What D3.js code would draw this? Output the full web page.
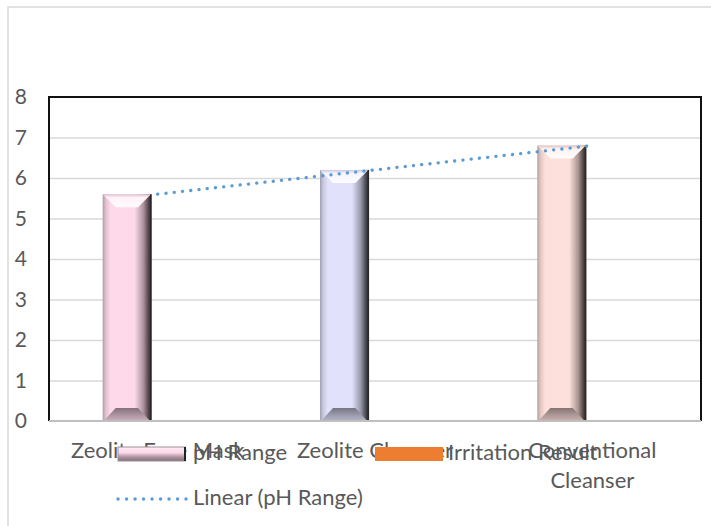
<!DOCTYPE html>
<html>
<head>
<meta charset="utf-8">
<script src="https://cdn.jsdelivr.net/npm/d3@7"></script>
<style>
  html, body { margin: 0; padding: 0; background: #fff; }
  svg { display: block; }
  text { font-family: Lato, "Open Sans", sans-serif; fill: #595959; }
</style>
</head>
<body>
<svg id="chart" width="711" height="526"></svg>
<script>
// Product categories and measured values
const categories = ["Zeolite Face Mask", "Zeolite Cleanser", "Conventional Cleanser"];
const seriesNames = ["pH Range", "Irritation Result"];
const phRange = [5.6, 6.2, 6.8];
const irritationResult = [0, 0, 0];
const yTicks = [0, 1, 2, 3, 4, 5, 6, 7, 8];
const trendName = "Linear (pH Range)";

// Face colours of the bevelled bars, one per category
const barColors = ["#fdd9ea", "#e1e1fb", "#fddfdb"];
const irritationColor = "#ed7d31";
const trendColor = "#5b9bd5";

const svg = d3.select("#chart");
const defs = svg.append("defs");

const plot = { left: 49, right: 701, top: 97, bottom: 421 };
const fontSize = 22;

// outer chart frame
svg.append("rect")
  .attr("x", 8).attr("y", 7).attr("width", 720).attr("height", 540)
  .attr("fill", "none").attr("stroke", "#d9d9d9").attr("stroke-width", 1.5);

const y = d3.scaleLinear().domain([0, 8]).range([plot.bottom, plot.top]);
const x0 = d3.scaleBand().domain(categories).range([plot.left, plot.right]).padding(0);
const bw = x0.bandwidth();
const x1 = d3.scaleBand().domain(seriesNames)
  .range([bw * 0.247, bw * 0.753]).paddingInner(0.216).paddingOuter(0);

// gridlines
svg.append("g")
  .attr("transform", `translate(${plot.left},0)`)
  .call(d3.axisLeft(y).tickValues(yTicks.slice(1, -1)).tickSize(-(plot.right - plot.left)).tickFormat(""))
  .call(g => g.select(".domain").remove())
  .call(g => g.selectAll("line").attr("stroke", "#d9d9d9").attr("stroke-width", 1.5));

// y tick labels
svg.append("g")
  .attr("transform", `translate(27,0)`)
  .call(d3.axisLeft(y).tickValues(yTicks).tickSize(0).tickPadding(0))
  .call(g => g.select(".domain").remove())
  .call(g => g.selectAll("text")
    .attr("font-size", 21).attr("fill", "#595959")
    .style("font-family", "Lato, 'Open Sans', sans-serif"));

// plot area frame
svg.append("path")
  .attr("d", `M${plot.left},${plot.bottom}V${plot.top}H${plot.right}V${plot.bottom}`)
  .attr("fill", "none").attr("stroke", "#111").attr("stroke-width", 2);

// gradients for bevelled bars
function shade(c, k) { return d3.interpolateRgb(c, "#000")(k); }
function tint(c, k) { return d3.interpolateRgb(c, "#fff")(k); }

barColors.forEach((c, i) => {
  const g = defs.append("linearGradient").attr("id", "side" + i)
    .attr("x1", 0).attr("x2", 1).attr("y1", 0).attr("y2", 0);
  g.append("stop").attr("offset", 0).attr("stop-color", shade(c, 0.3));
  g.append("stop").attr("offset", 0.06).attr("stop-color", shade(c, 0.12));
  g.append("stop").attr("offset", 0.16).attr("stop-color", c);
  g.append("stop").attr("offset", 0.66).attr("stop-color", c);
  g.append("stop").attr("offset", 0.84).attr("stop-color", shade(c, 0.32));
  g.append("stop").attr("offset", 0.95).attr("stop-color", shade(c, 0.68));
  g.append("stop").attr("offset", 1).attr("stop-color", shade(c, 0.82));

  const t = defs.append("linearGradient").attr("id", "top" + i)
    .attr("x1", 0).attr("x2", 0).attr("y1", 0).attr("y2", 1);
  t.append("stop").attr("offset", 0).attr("stop-color", shade(c, 0.12));
  t.append("stop").attr("offset", 0.25).attr("stop-color", tint(c, 0.6));
  t.append("stop").attr("offset", 1).attr("stop-color", tint(c, 0.92));

  const b = defs.append("linearGradient").attr("id", "bot" + i)
    .attr("x1", 0).attr("x2", 0).attr("y1", 0).attr("y2", 1);
  b.append("stop").attr("offset", 0).attr("stop-color", shade(c, 0.48));
  b.append("stop").attr("offset", 0.6).attr("stop-color", shade(c, 0.3));
  b.append("stop").attr("offset", 1).attr("stop-color", shade(c, 0.2));
});

function bevelBar(g, x, yTop, w, h, i) {
  const bv = Math.min(13, w / 3.5, h / 3);
  g.append("rect").attr("x", x).attr("y", yTop).attr("width", w).attr("height", h)
    .attr("fill", `url(#side${i})`);
  g.append("path")
    .attr("d", `M${x},${yTop}H${x + w}L${x + w - bv},${yTop + bv}H${x + bv}Z`)
    .attr("fill", `url(#top${i})`);
  g.append("path")
    .attr("d", `M${x + 1},${yTop + h}H${x + w - 1}L${x + w - bv},${yTop + h - bv}H${x + bv}Z`)
    .attr("fill", `url(#bot${i})`);
  g.append("path")
    .attr("d", `M${x + w},${yTop}V${yTop + h}`)
    .attr("stroke", shade(barColors[i], 0.82)).attr("stroke-width", 1.5);
}

const bars = svg.append("g");
phRange.forEach((v, i) => {
  const bx = x0(categories[i]) + x1("pH Range");
  bevelBar(bars, bx, y(v), x1.bandwidth(), y(0) - y(v), i);
});
irritationResult.forEach((v, i) => {
  bars.append("rect")
    .attr("x", x0(categories[i]) + x1("Irritation Result"))
    .attr("y", y(v)).attr("width", x1.bandwidth()).attr("height", y(0) - y(v))
    .attr("fill", irritationColor);
});

// category axis line
svg.append("line")
  .attr("x1", plot.left).attr("x2", plot.right)
  .attr("y1", plot.bottom).attr("y2", plot.bottom)
  .attr("stroke", "#bfbfbf").attr("stroke-width", 2);

// least-squares trend of pH Range over the category index
const xs = phRange.map((_, i) => i + 1);
const mx = d3.mean(xs), my = d3.mean(phRange);
const slope = d3.sum(xs, (xv, i) => (xv - mx) * (phRange[i] - my)) / d3.sum(xs, xv => (xv - mx) ** 2);
const icpt = my - slope * mx;
const trendPts = [1, xs.length].map(k => [x0(categories[k - 1]) + bw / 2, y(icpt + slope * k)]);
svg.append("path")
  .attr("d", d3.line()(trendPts))
  .attr("fill", "none").attr("stroke", trendColor).attr("stroke-width", 3.3)
  .attr("stroke-linecap", "round").attr("stroke-dasharray", "0.1 8.2");

// category labels, wrapped where too wide for one line
const catG = svg.append("g");
categories.forEach(c => {
  const cx = x0(c) + bw / 2;
  const lines = c === "Conventional Cleanser" ? ["Conventional", "Cleanser"] : [c];
  lines.forEach((ln, j) => {
    catG.append("text").attr("x", cx).attr("y", 458 + j * 30)
      .attr("text-anchor", "middle").attr("font-size", fontSize).text(ln);
  });
});

// legend
const leg = svg.append("g");
const lg = defs.append("linearGradient").attr("id", "legBar")
  .attr("x1", 0).attr("x2", 0).attr("y1", 0).attr("y2", 1);
lg.append("stop").attr("offset", 0).attr("stop-color", tint(barColors[0], 0.5));
lg.append("stop").attr("offset", 0.4).attr("stop-color", barColors[0]);
lg.append("stop").attr("offset", 0.7).attr("stop-color", shade(barColors[0], 0.3));
lg.append("stop").attr("offset", 1).attr("stop-color", shade(barColors[0], 0.5));
leg.append("rect").attr("x", 118).attr("y", 447).attr("width", 67).attr("height", 14)
  .attr("fill", "url(#legBar)");
leg.append("rect").attr("x", 118).attr("y", 447).attr("width", 67).attr("height", 14)
  .attr("fill", "none").attr("stroke", shade(barColors[0], 0.35)).attr("stroke-width", 1);
leg.append("line").attr("x1", 185).attr("x2", 185).attr("y1", 447).attr("y2", 461)
  .attr("stroke", "#222").attr("stroke-width", 2);
leg.append("text").attr("x", 193).attr("y", 460).attr("font-size", fontSize).text(seriesNames[0]);

leg.append("rect").attr("x", 375).attr("y", 447).attr("width", 68).attr("height", 14)
  .attr("fill", irritationColor);
leg.append("text").attr("x", 448).attr("y", 460).attr("font-size", fontSize).text(seriesNames[1]);

leg.append("line").attr("x1", 118).attr("x2", 186).attr("y1", 499).attr("y2", 499)
  .attr("stroke", trendColor).attr("stroke-width", 3.3)
  .attr("stroke-linecap", "round").attr("stroke-dasharray", "0.1 8.4");
leg.append("text").attr("x", 193).attr("y", 505).attr("font-size", fontSize).text(trendName);
</script>
</body>
</html>
